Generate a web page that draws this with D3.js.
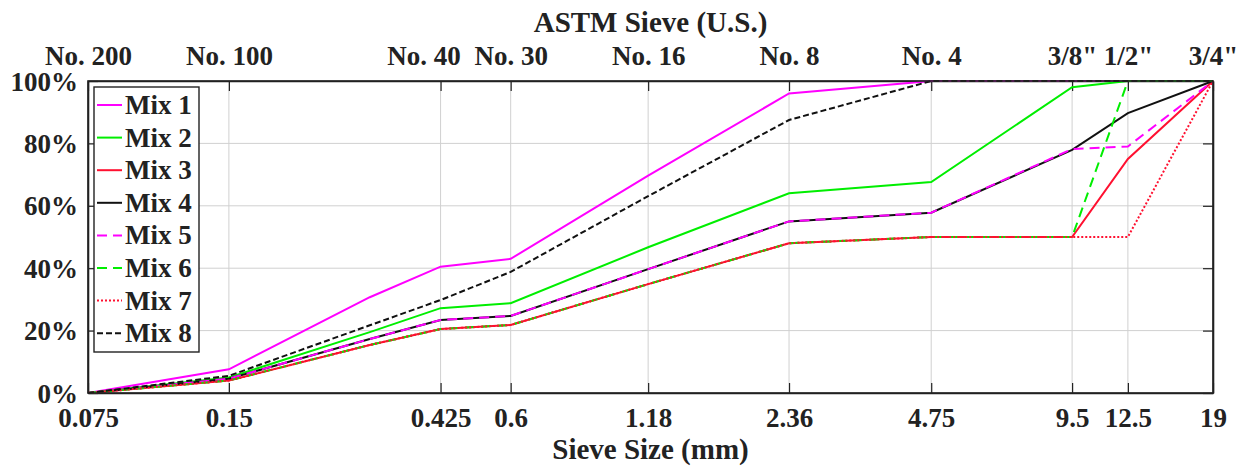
<!DOCTYPE html>
<html>
<head>
<meta charset="utf-8">
<script src="https://cdn.jsdelivr.net/npm/d3@7"></script>
<style>
  html, body { margin: 0; padding: 0; background: #fff; }
  text { font-family: "Liberation Serif", "Times New Roman", serif; font-weight: bold; fill: #222; }
</style>
</head>
<body>
<svg id="chart" width="1248" height="466"></svg>
<script>
// ---- data ----
const sieveSizes = [0.075, 0.15, 0.3, 0.425, 0.6, 1.18, 2.36, 4.75, 9.5, 12.5, 19];
const tickSizes = [0.075, 0.15, 0.425, 0.6, 1.18, 2.36, 4.75, 9.5, 12.5, 19];
const bottomLabels = ["0.075", "0.15", "0.425", "0.6", "1.18", "2.36", "4.75", "9.5", "12.5", "19"];
const topLabels = ["No. 200", "No. 100", "No. 40", "No. 30", "No. 16", "No. 8", "No. 4", "3/8\"", "1/2\"", "3/4\""];
const yTicks = [0, 20, 40, 60, 80, 100];
const seriesNames = ["Mix 1", "Mix 2", "Mix 3", "Mix 4", "Mix 5", "Mix 6", "Mix 7", "Mix 8"];
const mix1 = [0, 7.6, 30.7, 40.5, 43.0, 69.7, 96.0, 100, 100, 100, 100];
const mix2 = [0, 5.0, 19.5, 27.2, 28.8, 46.7, 64.0, 67.6, 98.0, 100, 100];
const mix3 = [0, 4.0, 15.4, 20.5, 21.8, 34.9, 48.0, 50.0, 50.0, 75.0, 100];
const mix4 = [0, 4.6, 17.3, 23.4, 24.7, 39.7, 55.0, 57.8, 77.9, 89.7, 100];
const mix5 = [0, 4.6, 17.3, 23.4, 24.7, 39.7, 55.0, 57.8, 78.2, 79.0, 100];
const mix6 = [0, 4.0, 15.4, 20.5, 21.8, 34.9, 48.0, 50.0, 50.0, 100, 100];
const mix7 = [0, 4.0, 15.4, 20.5, 21.8, 34.9, 48.0, 50.0, 50.0, 50.0, 100];
const mix8 = [0, 5.5, 21.7, 29.8, 38.8, 63.1, 87.5, 100, 100, 100, 100];
const seriesValues = [mix1, mix2, mix3, mix4, mix5, mix6, mix7, mix8];

// ---- styles ----
const colors = ["#ff00ff", "#00ee00", "#ff1030", "#111111", "#ff00ff", "#00ee00", "#ff1030", "#111111"];
const dashes = [null, null, null, null, "10,6", "10,6", "2,2", "6,3"];
const topLabelShift = [0, 0, -17, 0, 0, 0, 0, 0, 0, 0];

const svg = d3.select("#chart");
const M = { left: 88, right: 35, top: 81, bottom: 73 };
const W = 1248, H = 466;
const x = d3.scaleLog().domain([0.075, 19]).range([M.left, W - M.right]);
const y = d3.scaleLinear().domain([0, 100]).range([H - M.bottom, M.top]);

// grid
const grid = svg.append("g");
grid.selectAll("line.v").data(tickSizes).join("line")
  .attr("x1", d => x(d)).attr("x2", d => x(d))
  .attr("y1", y(0)).attr("y2", y(100))
  .attr("stroke", "#d0d0d0").attr("stroke-width", 1);
grid.selectAll("line.h").data(yTicks).join("line")
  .attr("x1", x(0.075)).attr("x2", x(19))
  .attr("y1", d => y(d)).attr("y2", d => y(d))
  .attr("stroke", "#d0d0d0").attr("stroke-width", 1);

// axes (inward ticks)
const fmtY = d => d + "%";
const axB = svg.append("g").attr("transform", `translate(0,${y(0)})`)
  .call(d3.axisBottom(x).tickValues(tickSizes).tickSizeInner(-10).tickSizeOuter(0)
    .tickFormat((d, i) => bottomLabels[i]));
const axT = svg.append("g").attr("transform", `translate(0,${y(100)})`)
  .call(d3.axisTop(x).tickValues(tickSizes).tickSizeInner(-10).tickSizeOuter(0)
    .tickFormat((d, i) => topLabels[i]));
const axL = svg.append("g").attr("transform", `translate(${x(0.075)},0)`)
  .call(d3.axisLeft(y).tickValues(yTicks).tickSizeInner(-10).tickSizeOuter(0).tickFormat(fmtY));
const axR = svg.append("g").attr("transform", `translate(${x(19)},0)`)
  .call(d3.axisRight(y).tickValues(yTicks).tickSizeInner(-10).tickSizeOuter(0).tickFormat(""));

[axB, axT, axL, axR].forEach(a => {
  a.select(".domain").attr("stroke", "#222").attr("stroke-width", 1.6);
  a.selectAll(".tick line").attr("stroke", "#222").attr("stroke-width", 1.2);
  a.selectAll("text").attr("font-family", null).attr("font-size", null)
    .style("font-size", "27px").attr("fill", "#222");
});
axB.selectAll("text").attr("y", 0).attr("dy", null).attr("transform", "translate(0,34)");
axT.selectAll("text").attr("y", 0).attr("dy", null)
  .attr("transform", (d, i) => `translate(${topLabelShift[i]},-16)`);
axL.selectAll("text").attr("x", -10).attr("dy", null).attr("y", 9);

// lines
const line = d3.line().x(d => x(d[0])).y(d => y(d[1]));
const plot = svg.append("g");
seriesValues.forEach((vals, i) => {
  plot.append("path")
    .datum(sieveSizes.map((s, j) => [s, vals[j]]))
    .attr("d", line)
    .attr("fill", "none")
    .attr("stroke", colors[i])
    .attr("stroke-width", 2)
    .attr("stroke-dasharray", dashes[i]);
});

// re-draw border on top
svg.append("rect").attr("x", x(0.075)).attr("y", y(100))
  .attr("width", x(19) - x(0.075)).attr("height", y(0) - y(100))
  .attr("fill", "none").attr("stroke", "#222").attr("stroke-width", 1.6);

// legend
const lg = svg.append("g");
lg.append("rect").attr("x", 94).attr("y", 87).attr("width", 105).attr("height", 265)
  .attr("fill", "#fff").attr("stroke", "#222").attr("stroke-width", 1.4);
seriesNames.forEach((name, i) => {
  const cy = 105 + i * 32.6;
  lg.append("line").attr("x1", 97).attr("x2", 122).attr("y1", cy).attr("y2", cy)
    .attr("stroke", colors[i]).attr("stroke-width", 2).attr("stroke-dasharray", dashes[i]);
  lg.append("text").attr("x", 125).attr("y", cy + 9).style("font-size", "27px").text(name);
});

// titles
svg.append("text").attr("x", (x(0.075) + x(19)) / 2).attr("y", 32)
  .attr("text-anchor", "middle").style("font-size", "29px").text("ASTM Sieve (U.S.)");
svg.append("text").attr("x", (x(0.075) + x(19)) / 2).attr("y", 459)
  .attr("text-anchor", "middle").style("font-size", "29px").text("Sieve Size (mm)");
</script>
</body>
</html>
